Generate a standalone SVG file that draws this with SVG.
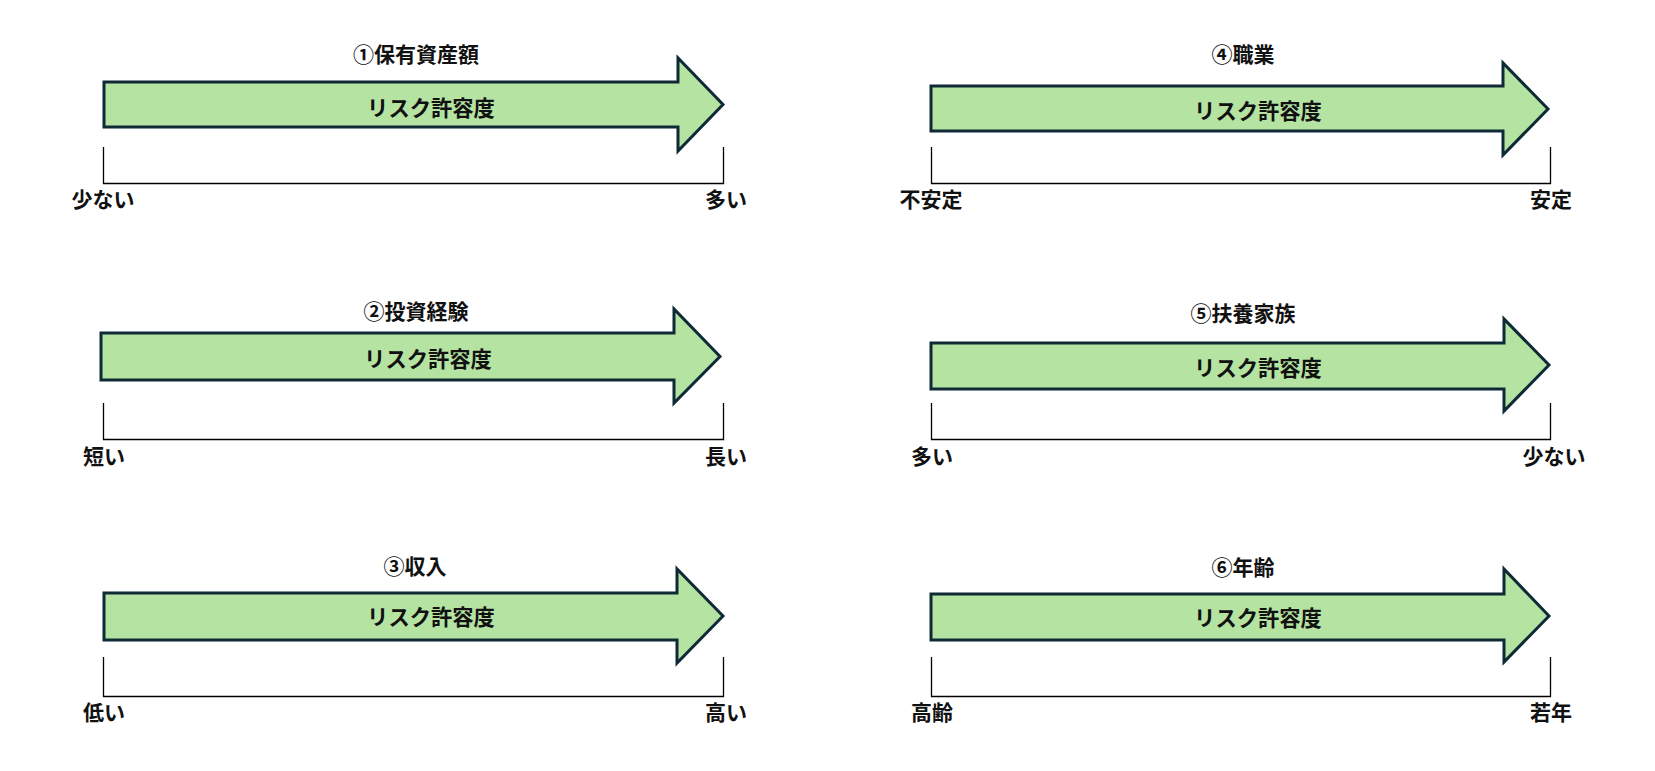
<svg xmlns="http://www.w3.org/2000/svg" width="1655" height="771" viewBox="0 0 1655 771">
<style>
.arrow{fill:#b4e3a2;stroke:#0e2a36;stroke-width:3;stroke-linejoin:miter}
.axis{fill:none;stroke:#000;stroke-width:1.3}
text{font-family:"Noto Sans CJK JP","Noto Sans",sans-serif;font-weight:bold;fill:#111;text-anchor:middle}
.t{font-size:21px}
.a{font-size:21.3px}
.l{font-size:21px}
</style>
<rect width="1655" height="771" fill="#fff"/>
<g id="connectors">
<path class="axis" d="M103.5,147 V183.5 H723.5 V147"/>
<path class="axis" d="M103.5,403 V439.5 H723.5 V403"/>
<path class="axis" d="M103.5,657 V696.5 H723.5 V657"/>
<path class="axis" d="M931.5,147 V183.5 H1550.5 V147"/>
<path class="axis" d="M931.5,403 V439.5 H1550.5 V403"/>
<path class="axis" d="M931.5,657 V696.5 H1550.5 V657"/>
</g>
<g id="node1">
<text class="t" x="416" y="62">①保有資産額</text>
<polygon class="arrow" points="104,82 678,82 678,58 723,104.5 678,151 678,127 104,127"/>
<text class="a" x="431" y="116">リスク許容度</text>
<text class="l" x="103" y="207">少ない</text>
<text class="l" x="726" y="207">多い</text>
</g>
<g id="node2">
<text class="t" x="416" y="319">②投資経験</text>
<polygon class="arrow" points="101,333 674,333 674,309 720,356.5 674,403 674,380 101,380"/>
<text class="a" x="428" y="367">リスク許容度</text>
<text class="l" x="104" y="464">短い</text>
<text class="l" x="726" y="464">長い</text>
</g>
<g id="node3">
<text class="t" x="415" y="574">③収入</text>
<polygon class="arrow" points="104,593 677,593 677,569 723,616 677,663 677,640 104,640"/>
<text class="a" x="431" y="625">リスク許容度</text>
<text class="l" x="104" y="720">低い</text>
<text class="l" x="726" y="720">高い</text>
</g>
<g id="node4">
<text class="t" x="1243" y="62">④職業</text>
<polygon class="arrow" points="931,86 1503,86 1503,63 1548,109 1503,155 1503,131 931,131"/>
<text class="a" x="1258" y="119">リスク許容度</text>
<text class="l" x="931" y="207">不安定</text>
<text class="l" x="1551" y="207">安定</text>
</g>
<g id="node5">
<text class="t" x="1243" y="321">⑤扶養家族</text>
<polygon class="arrow" points="931,343 1504,343 1504,319 1549,365 1504,411 1504,389 931,389"/>
<text class="a" x="1258" y="376">リスク許容度</text>
<text class="l" x="932" y="464">多い</text>
<text class="l" x="1554" y="464">少ない</text>
</g>
<g id="node6">
<text class="t" x="1243" y="575">⑥年齢</text>
<polygon class="arrow" points="931,594 1504,594 1504,569 1549,616 1504,662 1504,640 931,640"/>
<text class="a" x="1258" y="626">リスク許容度</text>
<text class="l" x="932" y="720">高齢</text>
<text class="l" x="1551" y="720">若年</text>
</g>
</svg>
